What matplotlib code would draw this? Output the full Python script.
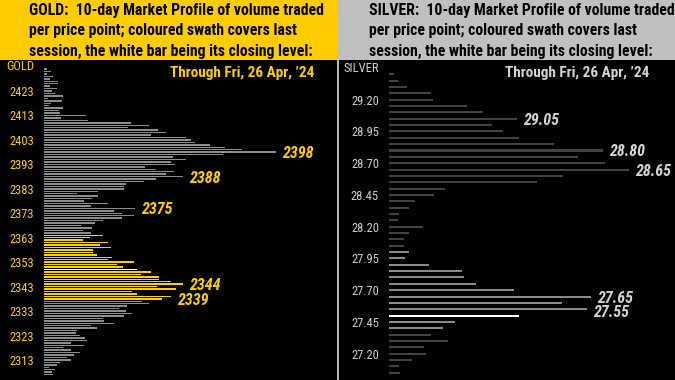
import numpy as np
import matplotlib
matplotlib.use("Agg")
import matplotlib.pyplot as plt
from matplotlib import font_manager as fm
from matplotlib.patches import Rectangle
from matplotlib.lines import Line2D

# ---------------- data ----------------
gold_prices = list(range(2432, 2306, -1))
gold_volume = [
    3, 7, 3, 9, 6, 14, 14, 6, 13, 8,
    11, 19, 4, 18, 7, 5, 19, 15, 16, 42,
    17, 44, 87, 105, 84, 114, 122, 107, 142, 147,
    151, 166, 181, 198, 232, 179, 129, 142, 127, 131,
    101, 112, 130, 122, 139, 112, 100, 82, 80, 80,
    54, 33, 54, 48, 40, 64, 47, 91, 70, 78,
    90, 78, 59, 51, 37, 48, 39, 47, 59, 46,
    39, 64, 56, 67, 49, 49, 53, 68, 64, 90,
    73, 79, 93, 107, 97, 115, 115, 127, 139, 113,
    132, 88, 93, 127, 118, 98, 105, 83, 75, 82,
    88, 80, 59, 60, 70, 47, 53, 33, 32, 36,
    41, 43, 27, 40, 19, 27, 36, 30, 23, 27,
    16, 13, 5, 11, 8, 9,
]
gold_session = (2338, 2364)
gold_close = 2350
gold_labels = [2398, 2388, 2375, 2344, 2339]
gold_ticks = [2423, 2413, 2403, 2393, 2383, 2373, 2363, 2353, 2343, 2333, 2323, 2313]

silver_prices = [round(29.40 - 0.05 * i, 2) for i in range(48)]
silver_volume = [
    5, 9, 18, 42, 44, 78, 94, 128, 103, 114,
    130, 165, 214, 189, 216, 240, 174, 148, 56, 45,
    26, 20, 10, 9, 34, 20, 15, 15, 20, 16,
    40, 73, 75, 87, 125, 202, 173, 198, 130, 66,
    54, 42, 59, 35, 37, 23, 10, 11,
]
silver_session = (27.40, 28.00)
silver_close = 27.50
silver_labels = [29.05, 28.80, 28.65, 27.65, 27.55]
silver_ticks = [29.20, 28.95, 28.70, 28.45, 28.20, 27.95, 27.70, 27.45, 27.20]

date_text = "Through Fri, 26 Apr, \u201924"
gold_header = ["GOLD:  10-day Market Profile of volume traded",
               "per price point; coloured swath covers last",
               "session, the white bar being its closing level:"]
silver_header = ["SILVER:  10-day Market Profile of volume traded",
                 "per price point; coloured swath covers last",
                 "session, the white bar being its closing level:"]

# ---------------- fonts ----------------
def pick(fams):
    for f in fams:
        try:
            fm.findfont(fm.FontProperties(family=f), fallback_to_default=False)
            return f
        except Exception:
            pass
    return "DejaVu Sans"

NARROW = pick(["Liberation Sans Narrow", "Arial Narrow", "Roboto Condensed"])
if NARROW == "DejaVu Sans":
    FONT = pick(["Liberation Sans"])
    K = 0.84
else:
    FONT = NARROW
    K = 1.0

W, H = 675, 380
fig = plt.figure(figsize=(W / 100, H / 100), dpi=100)
fig.patch.set_facecolor("black")

def fx(x):
    return x / W

def fy(y):
    return 1 - y / H

YELLOW = "#FFCC00"
SGRAY = "#C0C0C0"

# header boxes
fig.patches.append(Rectangle((0, fy(60)), fx(336.5), 60 / H, transform=fig.transFigure,
                             facecolor=YELLOW, edgecolor="none", zorder=0))
fig.patches.append(Rectangle((fx(337), fy(60)), fx(W - 337), 60 / H, transform=fig.transFigure,
                             facecolor=SGRAY, edgecolor="none", zorder=0))
fig.lines.append(Line2D([fx(337.5), fx(337.5)], [0, fy(60)], transform=fig.transFigure,
                        color="#C8C8C8", lw=1.3))

HDR = 11.3 * K
for i, line in enumerate(gold_header):
    fig.text(fx(29), fy(15.5 + 20 * i), line, family=FONT, weight="bold",
             fontsize=HDR, color="black", va="baseline", ha="left")
for i, line in enumerate(silver_header):
    fig.text(fx(369), fy(15.5 + 20 * i), line, family=FONT, weight="bold",
             fontsize=HDR, color="black", va="baseline", ha="left")


def panel(left, right, prices, volume, session, close, labels, ticks, ylim,
          base_col, sess_col, txt_col, lab_col, height, name, name_x, name_y,
          date_right, fmt, low_label):
    ax = fig.add_axes([fx(left), 0, fx(right - left), 320 / H])
    ax.set_facecolor("black")
    cols = []
    for p in prices:
        if abs(p - close) < 1e-6:
            cols.append("white")
        elif session[0] - 1e-6 <= p <= session[1] + 1e-6:
            cols.append(sess_col)
        else:
            cols.append(base_col)
    ax.barh(prices, volume, height=height, color=cols, linewidth=0)
    ax.set_xlim(0, right - left)
    ax.set_ylim(*ylim)
    for s in ax.spines.values():
        s.set_visible(False)
    ax.set_xticks([])
    ax.set_yticks(ticks)
    ax.set_yticklabels([fmt(t) for t in ticks], family=FONT, fontsize=9 * K, color=txt_col)
    ax.tick_params(axis="y", length=0, pad=7.2)
    vol_of = dict(zip(prices, volume))
    for lp in labels:
        v = vol_of[min(prices, key=lambda q: abs(q - lp))]
        dy = -1.6 if abs(lp - low_label) < 1e-6 else 0
        ax.annotate(fmt(lp), (v, lp), xytext=(4, dy), textcoords="offset points",
                    ha="left", va="center_baseline", family=FONT, weight="bold",
                    style="italic", fontsize=11.5 * K, color=lab_col)
    fig.text(fx(name_x), fy(name_y), name, family=FONT, fontsize=9 * K,
             color=txt_col, ha="right", va="center")
    fig.text(fx(date_right), fy(73.5), date_text, family=FONT, weight="bold",
             fontsize=11 * K, color=lab_col, ha="right", va="center")
    return ax


panel(44, 336, gold_prices, gold_volume, gold_session, gold_close, gold_labels,
      gold_ticks, (2304.8, 2435.7), "#8C8C8C", YELLOW, YELLOW, YELLOW, 0.6,
      "GOLD", 34.3, 66.3, 314, lambda v: f"{v:d}", 2339)

panel(389, 675, silver_prices, silver_volume, silver_session, silver_close,
      silver_labels, silver_ticks, (26.9926, 29.5126), "#424242", "#8A8A8A",
      "#D0D0D0", "#D4D4D4", 0.016, "SILVER", 379.3, 68.7, 649,
      lambda v: f"{v:.2f}", 27.55)

fig.savefig("out.png", dpi=100, facecolor="black")
